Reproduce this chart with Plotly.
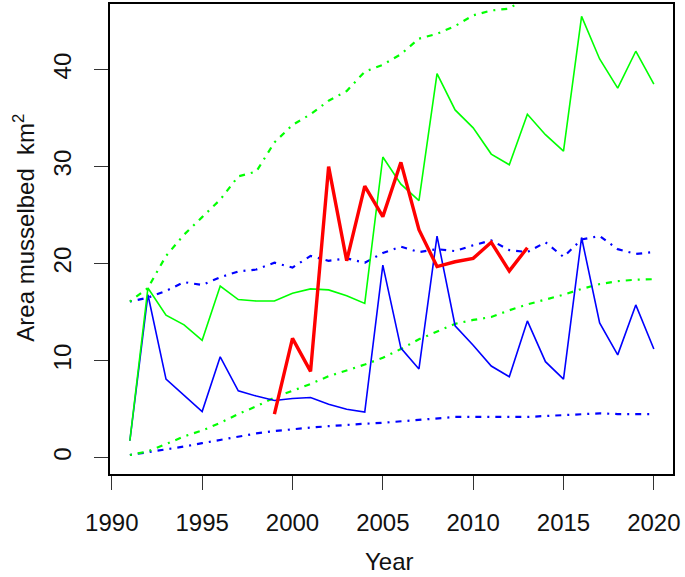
import plotly.graph_objects as go

# -------------------------------
# Data
# -------------------------------
years = list(range(1991, 2021))
red_years = list(range(1999, 2014))

green_obs = [1.75, 17.5, 14.7, 13.7, 12.1, 17.7, 16.3, 16.15, 16.15, 16.95,
             17.4, 17.3, 16.7, 15.9, 31.0, 28.2, 26.5, 39.6, 35.85, 34.0,
             31.3, 30.2, 35.4, 33.3, 31.6, 45.5, 41.1, 38.1, 41.9, 38.5]
blue_obs = [1.75, 16.8, 8.1, 6.4, 4.75, 10.4, 6.9, 6.35, 5.9, 6.1,
            6.2, 5.5, 5.0, 4.7, 19.85, 11.3, 9.15, 22.85, 13.6, 11.6,
            9.45, 8.35, 14.1, 9.9, 8.1, 22.7, 13.9, 10.6, 15.75, 11.2]
red_obs = [4.5, 12.3, 8.9, 30.0, 20.3, 28.0, 24.85, 30.45, 23.5, 19.7,
           20.2, 20.55, 22.2, 19.25, 21.65]

green_upper = [16.1, 17.5, 20.8, 23.0, 24.8, 26.6, 29.0, 29.5, 32.5, 34.3,
               35.4, 36.8, 37.8, 39.8, 40.5, 41.6, 43.2, 43.7, 44.5, 45.6,
               46.1, 46.3, 47.5, 48.4, 49.3, 50.2, 51.0, 51.8, 52.5, 53.2]
green_lower = [0.28, 0.65, 1.4, 2.2, 2.8, 3.6, 4.5, 5.3, 6.2, 6.9,
               7.6, 8.4, 9.0, 9.6, 10.3, 11.2, 12.2, 13.0, 13.8, 14.2,
               14.5, 15.2, 15.8, 16.3, 16.8, 17.4, 17.9, 18.2, 18.35, 18.4]
blue_upper = [16.1, 16.5, 17.2, 18.1, 17.8, 18.6, 19.2, 19.4, 20.1, 19.6,
              20.8, 20.3, 20.55, 20.1, 21.1, 21.75, 21.2, 21.5, 21.3, 21.9,
              22.4, 21.4, 21.2, 22.2, 20.7, 22.5, 22.85, 21.5, 21.0, 21.2]
blue_lower = [0.28, 0.55, 0.85, 1.15, 1.5, 1.85, 2.2, 2.5, 2.75, 2.95,
              3.1, 3.25, 3.4, 3.5, 3.6, 3.75, 3.95, 4.1, 4.2, 4.2,
              4.2, 4.2, 4.2, 4.3, 4.4, 4.5, 4.57, 4.5, 4.5, 4.5]

x_ticks = [1990, 1995, 2000, 2005, 2010, 2015, 2020]
y_ticks = [0, 10, 20, 30, 40]

GREEN = "#00FF00"
BLUE = "#0000FF"
RED = "#FF0000"
DOTDASH = "2px,6px,6px,6px"
FONT = "Liberation Sans, Arial, sans-serif"

fig = go.Figure()

# dotted bands first, solid lines on top
for ys, col in [(blue_upper, BLUE), (blue_lower, BLUE),
                (green_upper, GREEN), (green_lower, GREEN)]:
    fig.add_trace(go.Scatter(x=years, y=ys, mode="lines",
                             line=dict(color=col, width=2.2, dash=DOTDASH)))

fig.add_trace(go.Scatter(x=years, y=blue_obs, mode="lines",
                         line=dict(color=BLUE, width=1.6)))
fig.add_trace(go.Scatter(x=years, y=green_obs, mode="lines",
                         line=dict(color=GREEN, width=1.6)))
fig.add_trace(go.Scatter(x=red_years, y=red_obs, mode="lines",
                         line=dict(color=RED, width=3.4)))

axis_common = dict(
    showgrid=False, zeroline=False, automargin=False,
    showline=True, linecolor="black", linewidth=1.5, mirror=True,
    ticks="outside", ticklen=14, tickwidth=1.2, tickcolor="#333333",
    tickfont=dict(family=FONT, size=24, color="#111111"),
)

fig.update_layout(
    width=685, height=577,
    margin=dict(l=110, r=12, t=4, b=103),
    plot_bgcolor="white", paper_bgcolor="white",
    showlegend=False,
    xaxis=dict(range=[1989.9, 2021.06], tickvals=x_ticks,
               ticklabelstandoff=12, **axis_common),
    yaxis=dict(range=[-1.68, 46.77], tickvals=y_ticks, tickangle=-90,
               ticklabelstandoff=14, **axis_common),
    annotations=[
        dict(text="Area musselbed  km<sup>2</sup>", xref="paper", yref="paper",
             x=-0.152, y=0.525, xanchor="center", yanchor="middle",
             textangle=-90, showarrow=False,
             font=dict(family=FONT, size=24, color="#111111")),
        dict(text="Year", xref="paper", yref="paper",
             x=0.497, y=-0.187, xanchor="center", yanchor="middle",
             showarrow=False,
             font=dict(family=FONT, size=24, color="#111111")),
    ],
)

# drop the browser's default body margin so the figure sits at (0, 0)
fig.write_html("out.html", config={"displayModeBar": False},
               post_script="document.body.style.margin = '0';")
